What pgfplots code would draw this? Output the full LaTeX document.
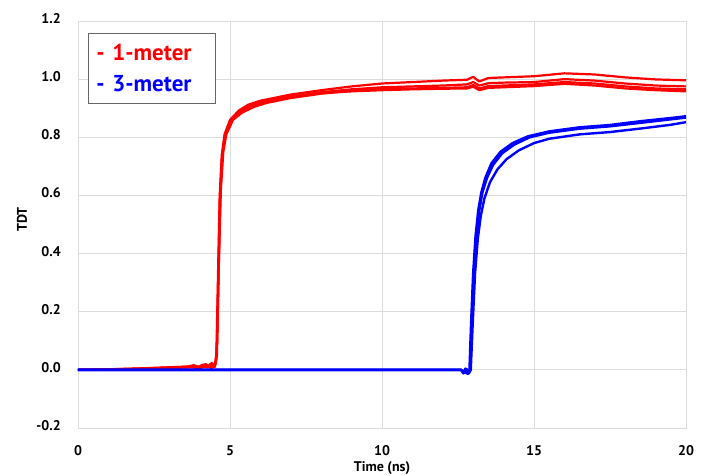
\documentclass[border=0pt]{standalone}
\usepackage{pgfplots}
\pgfplotsset{compat=1.18}
\usepackage{fontspec}
\setmainfont{PT Sans}
\definecolor{gridc}{RGB}{220,220,220}
\definecolor{myred}{RGB}{255,0,0}
\definecolor{myblue}{RGB}{0,0,255}
\begin{document}
\begin{tikzpicture}
\begin{axis}[
  scale only axis, width=608pt, height=407pt,
  xmin=0, xmax=20, ymin=-0.2, ymax=1.2,
  xtick={0,5,10,15,20}, ytick={-0.2,0,0.2,0.4,0.6,0.8,1.0,1.2},
  yticklabel style={/pgf/number format/fixed,/pgf/number format/fixed zerofill,/pgf/number format/precision=1},
  /pgf/number format/assume math mode=true,
  ticklabel style={font=\fontsize{14}{16}\selectfont\bfseries},
  major tick length=0pt,
  xtick pos=bottom, ytick pos=left,
  grid=major, grid style={gridc, line width=0.8pt},
  axis line style={gridc, line width=0.8pt},
  xlabel={Time (ns)}, ylabel={TDT},
  label style={font=\fontsize{14}{16}\selectfont\bfseries},
  xticklabel style={anchor=base, inner sep=0pt, yshift=-27pt},
  yticklabel style={anchor=mid east, inner sep=0pt, xshift=-17pt},
  xlabel style={at={(axis description cs:0.5,0)}, anchor=base, inner sep=0pt, yshift=-43pt},
  ylabel style={at={(axis description cs:-0.0921,0.512)}, anchor=center, inner sep=0pt},
  every axis plot/.append style={line join=round},
  clip=false,
]
% red traces (1-meter)
\addplot[myred, line width=2.2pt] coordinates {(0,0)(1,0.002)(2,0.005)(3,0.009)(3.6,0.011)(3.8,0.016)(4.0,0.010)(4.2,0.020)(4.3,0.012)(4.4,0.024)(4.5,0.014)(4.55,0.05)(4.6,0.3)(4.66,0.6)(4.73,0.74)(4.82,0.81)(5.0,0.86)(5.3,0.893)(5.6,0.912)(6,0.926)(7,0.947)(8,0.962)(9,0.975)(10,0.985)(11,0.99)(12,0.995)(12.8,0.998)(13,1.008)(13.2,0.992)(13.5,1.004)(14,1.006)(15,1.01)(16,1.02)(17,1.016)(18,1.006)(19,0.999)(20,0.996)};
\addplot[myred, line width=2.2pt] coordinates {(0,0)(1,0.002)(2,0.004)(3,0.008)(3.7,0.012)(3.9,0.006)(4.1,0.018)(4.25,0.008)(4.35,0.02)(4.5,0.01)(4.57,0.05)(4.62,0.3)(4.68,0.6)(4.75,0.74)(4.85,0.81)(5.05,0.86)(5.35,0.89)(5.7,0.91)(6,0.92)(7,0.94)(8,0.955)(9,0.965)(10,0.972)(11,0.975)(12,0.978)(12.8,0.982)(13,0.99)(13.2,0.978)(13.5,0.986)(14,0.988)(15,0.99)(16,1.0)(17,0.995)(18,0.985)(19,0.978)(20,0.975)};
\addplot[myred, line width=2.2pt] coordinates {(0,0)(1,0.001)(2,0.004)(3,0.007)(3.8,0.01)(4.0,0.004)(4.2,0.015)(4.4,0.006)(4.52,0.02)(4.58,0.1)(4.63,0.35)(4.7,0.62)(4.78,0.75)(4.88,0.81)(5.1,0.86)(5.4,0.885)(5.8,0.905)(6.2,0.918)(7,0.935)(8,0.95)(9,0.96)(10,0.966)(11,0.968)(12,0.97)(12.8,0.972)(13,0.98)(13.2,0.968)(13.5,0.976)(14,0.978)(15,0.982)(16,0.99)(17,0.985)(18,0.975)(19,0.968)(20,0.965)};
\addplot[myred, line width=2.2pt] coordinates {(0,0)(1,0.001)(2,0.003)(3,0.006)(4,0.01)(4.5,0.012)(4.56,0.04)(4.61,0.3)(4.67,0.6)(4.74,0.74)(4.84,0.81)(5.02,0.86)(5.3,0.888)(5.7,0.908)(6.1,0.92)(7,0.94)(8,0.952)(9,0.958)(10,0.962)(11,0.965)(12,0.967)(12.8,0.968)(13,0.974)(13.2,0.962)(13.5,0.97)(14,0.972)(15,0.976)(16,0.984)(17,0.978)(18,0.968)(19,0.962)(20,0.958)};
% blue traces (3-meter)
\addplot[myblue, line width=2.6pt] coordinates {(0,0)(12.6,0)(12.68,-0.012)(12.74,0.004)(12.82,-0.014)(12.88,0)(12.93,0.15)(13.0,0.33)(13.08,0.46)(13.17,0.55)(13.27,0.61)(13.4,0.66)(13.6,0.71)(13.9,0.75)(14.3,0.78)(14.8,0.803)(15.5,0.82)(16.5,0.834)(17.5,0.842)(18.5,0.855)(19.5,0.866)(20,0.872)};
\addplot[myblue, line width=2.6pt] coordinates {(0,0)(12.6,0)(12.7,-0.008)(12.78,0.003)(12.84,-0.01)(12.9,0)(12.95,0.15)(13.02,0.33)(13.1,0.46)(13.2,0.55)(13.3,0.61)(13.45,0.66)(13.65,0.705)(13.95,0.745)(14.35,0.775)(14.85,0.8)(15.5,0.816)(16.5,0.83)(17.5,0.838)(18.5,0.85)(19.5,0.862)(20,0.868)};
\addplot[myblue, line width=2.4pt] coordinates {(0,0)(12.6,0)(12.72,-0.01)(12.86,-0.012)(12.92,0)(12.98,0.15)(13.06,0.33)(13.15,0.45)(13.25,0.53)(13.37,0.59)(13.55,0.645)(13.8,0.69)(14.1,0.725)(14.5,0.755)(15,0.78)(15.5,0.795)(16.5,0.81)(17.5,0.818)(18.5,0.83)(19.5,0.843)(20,0.852)};
\end{axis}
\node[draw=gray!80!black, line width=0.8pt, fill=white, inner xsep=8pt, inner ysep=0pt, minimum width=127pt, minimum height=70pt, text width=111pt, anchor=north west, align=left, font=\fontsize{23}{31}\selectfont\bfseries] at (10pt,395pt) {\textcolor{myred}{- 1-meter}\\\textcolor{myblue}{- 3-meter}};
\path (-78pt,-47pt) (632pt,428pt);
\end{tikzpicture}
\end{document}
